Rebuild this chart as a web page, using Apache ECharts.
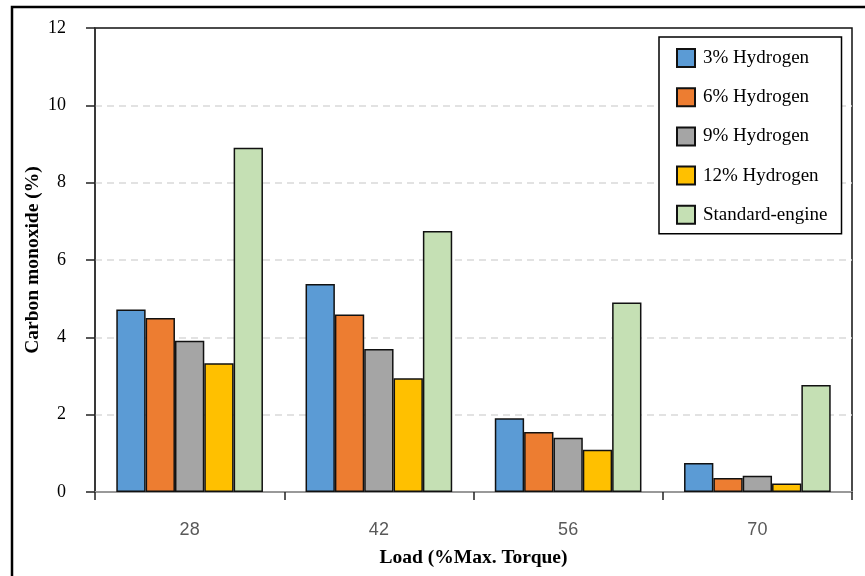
<!DOCTYPE html>
<html>
<head>
<meta charset="utf-8">
<script src="https://cdn.jsdelivr.net/npm/echarts@6/dist/echarts.min.js"></script>
<style>html,body{margin:0;padding:0;background:#fff}#c{width:865px;height:576px}</style>
</head>
<body>
<div id="c"></div>
<script>
const categories = ['28', '42', '56', '70'];
const seriesNames = ['3% Hydrogen', '6% Hydrogen', '9% Hydrogen', '12% Hydrogen', 'Standard-engine'];
const h3 = [4.72, 5.38, 1.91, 0.75];
const h6 = [4.50, 4.59, 1.55, 0.36];
const h9 = [3.91, 3.70, 1.40, 0.42];
const h12 = [3.33, 2.94, 1.09, 0.22];
const standard = [8.90, 6.75, 4.90, 2.77];
const yTicks = [0, 2, 4, 6, 8, 10, 12];
const colors = ['#5B9BD5', '#ED7D31', '#A5A5A5', '#FFC000', '#C5E0B4'];
const values = [h3, h6, h9, h12, standard];

const serif = '"Liberation Serif", "Times New Roman", serif';
const chart = echarts.init(document.getElementById('c'), null, {renderer: 'canvas'});
chart.setOption({
  animation: false,
  color: colors,
  graphic: [{
    type: 'rect', silent: true, z: -10,
    shape: {x: 12, y: 7, width: 900, height: 620},
    style: {fill: 'none', stroke: '#000', lineWidth: 2.5}
  }],
  grid: {left: 95, right: 13, top: 28, bottom: 84, show: true, borderColor: '#111', borderWidth: 1.5, backgroundColor: 'transparent'},
  legend: {
    orient: 'vertical', left: 659, top: 37,
    itemWidth: 18, itemHeight: 18, itemGap: 19.2,
    padding: [11, 14, 9, 17],
    borderColor: '#000', borderWidth: 1.5, backgroundColor: '#fff',
    icon: 'rect',
    textStyle: {fontFamily: serif, fontSize: 19, lineHeight: 19, color: '#000', padding: [0, 0, 0, 3]},
    data: seriesNames
  },
  xAxis: {
    type: 'category', data: categories,
    name: 'Load (%Max. Torque)', nameLocation: 'middle', nameGap: 56, nameMoveOverlap: false,
    nameTextStyle: {fontFamily: serif, fontSize: 19.5, fontWeight: 'bold', color: '#000'},
    axisLine: {lineStyle: {color: '#999', width: 2}},
    axisTick: {show: true, length: 8, lineStyle: {color: '#222', width: 1.5}},
    axisLabel: {margin: 29, fontFamily: '"Liberation Sans Narrow", "Liberation Sans", Arial, sans-serif', fontSize: 18, color: '#595959'}
  },
  yAxis: {
    type: 'value', min: 0, max: 12, interval: 2,
    name: 'Carbon monoxide (%)', nameLocation: 'middle', nameGap: 52, nameMoveOverlap: false,
    nameTextStyle: {fontFamily: serif, fontSize: 19.5, fontWeight: 'bold', color: '#000'},
    axisLine: {show: true, lineStyle: {color: '#333', width: 1.5}},
    axisTick: {show: true, inside: false, length: 9, lineStyle: {color: '#222', width: 1.5}},
    axisLabel: {margin: 29, fontFamily: serif, fontSize: 18, color: '#000',
      formatter: v => yTicks.includes(v) ? String(v) : ''},
    splitLine: {show: true, showMaxLine: false, showMinLine: false, lineStyle: {color: '#d9d9d9', width: 1.5, type: [7, 5]}}
  },
  series: seriesNames.map((n, i) => ({
    name: n, type: 'bar', data: values[i],
    barWidth: '15.5%', barGap: '0%',
    itemStyle: {color: colors[i], borderColor: '#111', borderWidth: 1.5}
  }))
});
</script>
</body>
</html>
